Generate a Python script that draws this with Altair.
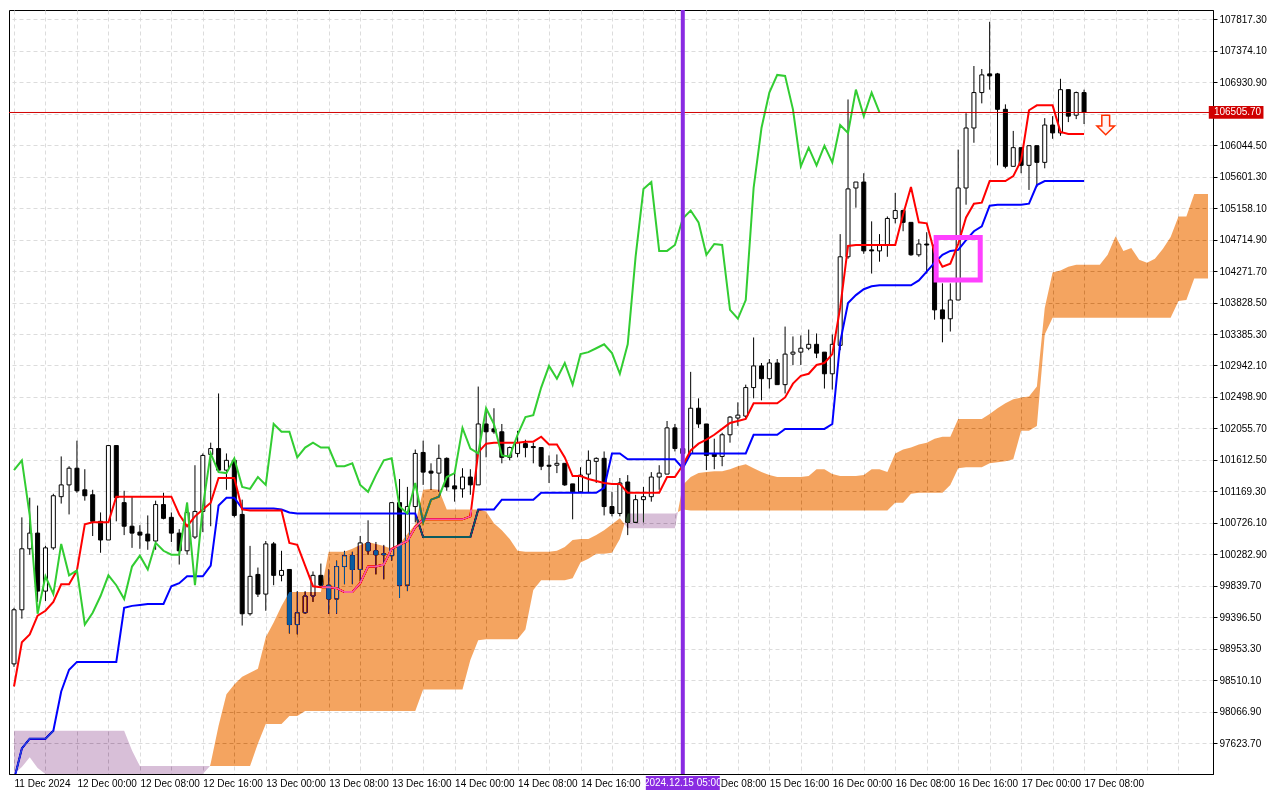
import altair as alt
import numpy as np
import pandas as pd

# Hours are counted from 12 Dec 2024 00:00; first bar is 11 Dec 16:00 (hour -8)
FIRST_HOUR = -8

open_ = [
    98739, 99501, 100360, 100581, 99764, 100373, 101094, 101260,
    101495, 101191, 101121, 100747, 100484, 101814, 101010, 100678,
    100595, 100567, 100470, 100983, 100803, 100581, 100332, 100526,
    100886, 101689, 101772, 101468, 101606, 100844, 99445, 99999,
    99722, 100429, 99986, 100069, 99293, 99459, 99695, 99986,
    99847, 99653, 100110, 100263, 100069, 100443, 100332, 100290,
    100263, 101010, 99847, 100955, 101717, 101454, 101426, 101634,
    101246, 101204, 101371, 101260, 102118, 102049, 102008, 101648,
    101703, 101841, 101800, 101786, 101537, 101537, 101564, 101274,
    101163, 101412, 101592, 101634, 100955, 100858, 101301, 100733,
    101052, 101094, 101371, 101412, 102063, 101772, 101703, 102340,
    102118, 101703, 101661, 101966, 102202, 102229, 102631, 102936,
    102756, 102977, 102672, 103102, 103130, 103185, 103240, 103130,
    102825, 103226, 104473, 105442, 105526, 104570, 104556, 104639,
    105013, 105124, 104958, 104501, 104653, 104639, 103725, 103600,
    103864, 105442, 106287, 106786, 107049, 107049, 106550, 105747,
    106010, 105761, 106038, 105803, 106329, 106218, 106827, 106467,
    106786,
]
high = [
    99529, 100803, 101080, 100969, 100401, 101135, 101661, 101523,
    101883, 101481, 101191, 100872, 101814, 101814, 101177, 101094,
    100692, 100830, 101038, 101149, 100872, 100637, 101010, 101537,
    101703, 101855, 102548, 101703, 101634, 101052, 100401, 100096,
    100470, 100456, 100332, 100069, 99764, 99764, 100041, 100152,
    100069, 100193, 100332, 100318, 100540, 100761, 100456, 100415,
    101010, 101343, 101232, 101758, 101883, 101564, 101828, 101648,
    101426, 101495, 101481, 102645, 102340, 102340, 102118, 101800,
    102022, 101897, 101855, 101786, 101675, 101689, 101564, 101274,
    101509, 101745, 101648, 101731, 101163, 101357, 101398, 101121,
    101232, 101440, 101537, 102160, 102118, 101883, 102852, 102479,
    102118, 101911, 101994, 102229, 102423, 102672, 103337, 102977,
    103033, 103033, 103490, 103351, 103365, 103448, 103393, 103130,
    103379, 104792, 106689, 105526, 105650, 104972, 104792, 105041,
    105373, 105138, 104958, 104722, 104819, 104639, 104099, 104099,
    105983, 106495, 107160, 107118, 107783, 107063, 106620, 106246,
    106010, 106038, 106038, 106426, 106454, 106980, 106827, 106800,
    106827,
]
low = [
    98697, 99376, 100276, 99612, 99625, 100346, 100997, 100844,
    101149, 101038, 100540, 100304, 100484, 100747, 100553, 100373,
    100360, 100346, 100346, 100775, 100456, 100138, 100276, 100498,
    100595, 100678, 101440, 101191, 100803, 99279, 99418, 99681,
    99487, 99847, 99902, 99168, 99155, 99445, 99612, 99833,
    99445, 99445, 99861, 99861, 99902, 100276, 99999, 99930,
    100193, 99667, 99764, 100733, 101260, 101191, 101163, 101177,
    101024, 101080, 101121, 101260, 101648, 101980, 101564, 101606,
    101648, 101648, 101564, 101468, 101287, 101426, 101246, 100775,
    101149, 101149, 101287, 100830, 100817, 100817, 100553, 100733,
    100733, 101024, 101191, 101412, 101731, 101606, 101675, 102063,
    101468, 101481, 101523, 101855, 102091, 102188, 102479, 102451,
    102617, 102672, 102548, 102949, 102949, 103157, 103046, 102617,
    102603, 103157, 104445, 105165, 104515, 104237, 104404, 104473,
    104944, 104833, 104487, 104473, 104237, 103587, 103268, 103420,
    103864, 105207, 106079, 106634, 106827, 105761, 105719, 105747,
    105650, 105415, 105456, 105719, 106135, 106177, 106370, 106412,
    106343,
]
close = [
    99501, 100360, 100581, 99764, 100373, 101107, 101260, 101495,
    101177, 101107, 100747, 100484, 101814, 101080, 100678, 100581,
    100553, 100470, 100983, 100789, 100581, 100332, 100872, 100886,
    101675, 101772, 101468, 101606, 100830, 99445, 99972, 99722,
    100429, 99986, 100055, 99293, 99459, 99695, 99986, 99847,
    99653, 100110, 100263, 100069, 100443, 100332, 100276, 100276,
    101010, 99847, 100955, 101703, 101440, 101426, 101634, 101232,
    101204, 101371, 101260, 102118, 102008, 102008, 101648, 101786,
    101855, 101786, 101786, 101523, 101523, 101564, 101260, 101163,
    101398, 101606, 101634, 100955, 100858, 101287, 100733, 101052,
    101094, 101371, 101426, 102063, 101772, 101703, 102340, 102118,
    101675, 101661, 101966, 102215, 102243, 102631, 102936, 102756,
    102977, 102672, 103102, 103130, 103185, 103240, 103116, 102825,
    103240, 104473, 105429, 105526, 104556, 104556, 104639, 105013,
    105124, 104958, 104501, 104653, 104639, 103725, 103600, 103864,
    105442, 106287, 106786, 107035, 107021, 106550, 105747, 106010,
    105761, 106038, 105803, 106329, 106218, 106827, 106454, 106786,
    106505.7,
]
tenkan = [
    98420, 99044, 99155, 99418, 99487, 99612, 99861, 99861,
    100055, 100706, 100733, 100733, 100733, 101094, 101094, 101094,
    101094, 101094, 101094, 101094, 101094, 100844, 100678, 100817,
    100914, 101010, 101357, 101357, 101357, 100914, 100900, 100900,
    100900, 100900, 100900, 100443, 100415, 100124, 99833, 99819,
    99819, 99806, 99750, 99750, 99875, 100110, 100110, 100138,
    100360, 100415, 100470, 100664, 100775, 100775, 100775, 100775,
    100775, 100775, 100817, 101717, 101841, 101855, 101855, 101855,
    101855, 101869, 101869, 101938, 101828, 101828, 101648, 101384,
    101384, 101343, 101315, 101287, 101274, 101274, 101149, 101149,
    101149, 101149, 101149, 101371, 101371, 101537, 101745, 101841,
    101897, 101966, 102049, 102132, 102160, 102188, 102409, 102409,
    102409, 102409, 102492, 102686, 102797, 102825, 102949, 102977,
    103102, 103753, 104625, 104639, 104639, 104639, 104639, 104639,
    104639, 105069, 105456, 104958, 104944, 104528, 104334, 104376,
    104653, 105027, 105221, 105235, 105539, 105539, 105539, 105609,
    105830, 106537, 106606, 106606, 106606, 106232, 106204, 106204,
    106204,
]
kijun = [
    97105, 97548, 97686, 97686, 97686, 97797, 98351, 98656,
    98767, 98767, 98767, 98767, 98767, 98767, 99529, 99556,
    99570, 99584, 99584, 99584, 99833, 99875, 99972, 99972,
    99972, 100124, 100969, 101080, 101080, 100927, 100927, 100927,
    100927, 100927, 100914, 100872, 100858, 100858, 100858, 100858,
    100858, 100858, 100858, 100858, 100858, 100858, 100858, 100858,
    100858, 100858, 100858, 100858, 100526, 100526, 100526, 100526,
    100526, 100526, 100526, 100914, 100914, 100914, 101052, 101052,
    101052, 101052, 101052, 101149, 101149, 101149, 101149, 101149,
    101149, 101149, 101149, 101218, 101703, 101703, 101620, 101620,
    101620, 101620, 101620, 101620, 101620, 101495, 101703, 101703,
    101703, 101703, 101703, 101703, 101703, 101703, 101966, 101966,
    101966, 101966, 102049, 102049, 102049, 102049, 102049, 102049,
    102118, 103268, 103822, 103933, 104016, 104057, 104071, 104071,
    104071, 104071, 104071, 104140, 104265, 104390, 104501, 104556,
    104570, 104708, 104833, 104902, 105193, 105207, 105207, 105207,
    105207, 105221, 105484, 105539, 105539, 105539, 105539, 105539,
    105539,
]
# Senkou spans, already displaced 26 bars forward (hour -8 .. 144)
span_a = [
    96897, 97285, 97423, 97271, 96897, 96897, 96897, 96897,
    96897, 96897, 96897, 96897, 96897, 96897, 96897, 96897,
    96897, 96897, 96897, 96897, 96897, 96897, 96897, 96897,
    96897, 97340, 97866, 98310, 98448, 98559, 98614, 98670,
    99113, 99321, 99556, 99750, 99750, 99750, 99750, 99750,
    100318, 100318, 100318, 100360, 100415, 100456, 100429, 100401,
    100360, 100429, 100567, 100706, 101191, 101204, 101191, 100914,
    100914, 100914, 100914, 100914, 100886, 100720, 100623, 100498,
    100332, 100318, 100318, 100318, 100318, 100332, 100387, 100484,
    100498, 100498, 100553, 100623, 100706, 100789, 100650, 100650,
    100650, 100650, 100650, 100650, 100650, 101260, 101371, 101426,
    101440, 101454, 101454, 101481, 101523, 101551, 101495, 101440,
    101398, 101371, 101371, 101371, 101371, 101384, 101481, 101481,
    101412, 101384, 101384, 101384, 101398, 101481, 101481, 101440,
    101703, 101758, 101786, 101828, 101855, 101911, 101938, 101938,
    102188, 102188, 102188, 102188, 102257, 102340, 102409, 102465,
    102492, 102506, 102645, 103753, 104251, 104279, 104334, 104362,
    104362, 104362, 104362, 104501, 104764, 104556, 104598, 104431,
    104390, 104445, 104584, 104750, 105041, 105041, 105359, 105359,
    105359,
]
span_b = [
    97797, 97797, 97797, 97797, 97797, 97797, 97797, 97797,
    97797, 97797, 97797, 97797, 97797, 97797, 97797, 97520,
    97299, 97299, 97299, 97299, 97299, 97299, 97299, 97299,
    97299, 97299, 97299, 97299, 97299, 97299, 97299, 97617,
    97894, 97894, 97894, 98005, 98005, 98074, 98074, 98074,
    98074, 98074, 98074, 98074, 98074, 98074, 98074, 98074,
    98074, 98074, 98074, 98074, 98379, 98379, 98379, 98379,
    98379, 98379, 98794, 99071, 99085, 99085, 99085, 99085,
    99085, 99224, 99778, 99916, 99916, 99916, 99916, 99944,
    100166, 100221, 100290, 100290, 100304, 100498, 100858, 100858,
    100858, 100858, 100858, 100858, 100858, 100914, 100900, 100900,
    100900, 100900, 100900, 100900, 100900, 100900, 100900, 100900,
    100900, 100900, 100900, 100900, 100900, 100900, 100900, 100900,
    100900, 100900, 100900, 100900, 100900, 100900, 100900, 100900,
    101010, 101010, 101135, 101149, 101149, 101149, 101149, 101260,
    101495, 101509, 101509, 101509, 101564, 101578, 101592, 101620,
    102022, 102022, 102091, 103379, 103614, 103614, 103614, 103614,
    103614, 103614, 103614, 103614, 103614, 103614, 103614, 103614,
    103614, 103614, 103614, 103614, 103850, 103864, 104168, 104168,
    104168,
]
CHIKOU_SHIFT = 26

x_tick_hours = [-8, 0, 8, 16, 24, 32, 40, 48, 56, 64, 80, 88, 96, 104, 112, 120, 128]
x_tick_labels = ["11 Dec 2024", "12 Dec 00:00", "12 Dec 08:00", "12 Dec 16:00",
                 "13 Dec 00:00", "13 Dec 08:00", "13 Dec 16:00", "14 Dec 00:00",
                 "14 Dec 08:00", "14 Dec 16:00", "15 Dec 08:00", "15 Dec 16:00",
                 "16 Dec 00:00", "16 Dec 08:00", "16 Dec 16:00", "17 Dec 00:00",
                 "17 Dec 08:00"]
grid_hours = list(range(-8, 144, 4))
y_ticks = [97623.70, 98066.90, 98510.10, 98953.30, 99396.50, 99839.70, 100282.90,
           100726.10, 101169.30, 101612.50, 102055.70, 102498.90, 102942.10,
           103385.30, 103828.50, 104271.70, 104714.90, 105158.10, 105601.30,
           106044.50, 106487.70, 106930.90, 107374.10, 107817.30]
hidden_y_tick = 106487.70  # covered by the current-price tag

cursor_hour = 77
cursor_label = "2024.12.15 05:00"
last_price = 106505.70
box_hours = [109.2, 114.8]
box_prices = [104147, 104743]
arrow_hour = 130.75
arrow_price = 106329

X_DOMAIN = [-8, 143.75]
Y_DOMAIN = [97188, 107949]

n = len(close)
assert len(open_) == n and len(high) == n and len(low) == n, (len(open_), len(high), len(low), n)
assert len(tenkan) == n and len(kijun) == n, (len(tenkan), len(kijun))
assert len(span_a) == len(span_b), (len(span_a), len(span_b))

hours = np.arange(FIRST_HOUR, FIRST_HOUR + n)
span_hours = np.arange(FIRST_HOUR, FIRST_HOUR + len(span_a))

candles = pd.DataFrame(dict(h=hours, o=open_, hi=high, lo=low, c=close))
candles["dir"] = np.where(candles.c >= candles.o, "up", "down")

lines = pd.concat([
    pd.DataFrame(dict(h=hours, v=kijun, s="kijun")),
    pd.DataFrame(dict(h=hours, v=tenkan, s="tenkan")),
    pd.DataFrame(dict(h=hours[:-CHIKOU_SHIFT], v=close[CHIKOU_SHIFT:], s="chikou")),
])

# cloud segments (split where the spans cross)
rows = []
seg = 0
prev = None
for i, h in enumerate(span_hours):
    a, b = span_a[i], span_b[i]
    kind = "bull" if a >= b else "bear"
    if prev is not None and kind != prev:
        a0, b0 = span_a[i - 1], span_b[i - 1]
        t = (a0 - b0) / ((a0 - b0) - (a - b))
        hx = float(span_hours[i - 1]) + t
        vx = a0 + t * (a - a0)
        rows.append(dict(h=hx, a=vx, b=vx, kind=prev, seg=seg))
        seg += 1
        rows.append(dict(h=hx, a=vx, b=vx, kind=kind, seg=seg))
    rows.append(dict(h=float(h), a=a, b=b, kind=kind, seg=seg))
    prev = kind
cloud = pd.DataFrame(rows)
# keep the (unclipped, blended) cloud inside the plotting frame
cloud["h"] = cloud["h"].clip(upper=X_DOMAIN[1])
cloud["a"] = cloud["a"].clip(lower=Y_DOMAIN[0])
cloud["b"] = cloud["b"].clip(lower=Y_DOMAIN[0])

FONT = "Liberation Sans"
x_scale = alt.Scale(domain=X_DOMAIN, nice=False, zero=False)
y_scale = alt.Scale(domain=Y_DOMAIN, nice=False, zero=False)

label_expr = "".join(f"datum.value == {h} ? '{l}' : " for h, l in zip(x_tick_hours, x_tick_labels)) + "''"
y_label_expr = f"abs(datum.value - {hidden_y_tick}) < 1 ? '' : format(datum.value, '.2f')"

x_axis = alt.Axis(values=grid_hours, labelExpr=label_expr, grid=True, gridColor="#dcdcdc",
                  gridDash=[4, 3], ticks=False, labelAlign="left", labelBaseline="top",
                  labelPadding=4, labelFontSize=10, labelFont=FONT, labelColor="black",
                  domainColor="black", labelOverlap=False, labelFlush=False, title=None)
y_axis = alt.Axis(orient="right", values=y_ticks, labelExpr=y_label_expr, grid=True,
                  gridColor="#dcdcdc", gridDash=[4, 3], tickSize=4, tickColor="black",
                  labelPadding=2, labelFontSize=10, labelFont=FONT, labelColor="black",
                  domainColor="black", labelOverlap=False, labelFlush=False, title=None)


def X(field):
    return alt.X(field, scale=x_scale, axis=x_axis, title=None)


def Y(field, **kw):
    return alt.Y(field, scale=y_scale, axis=y_axis, title=None, **kw)


wicks = alt.Chart(candles).mark_rule(color="black", strokeWidth=1, clip=True).encode(
    x=X("h:Q"), y=Y("lo:Q"), y2="hi:Q",
)
bodies = alt.Chart(candles).mark_bar(width=4, stroke="black", strokeWidth=1, opacity=1,
                                     orient="vertical", clip=True).encode(
    x=X("h:Q"), y=Y("o:Q"), y2="c:Q",
    fill=alt.Fill("dir:N", scale=alt.Scale(domain=["up", "down"], range=["#ffffff", "#000000"]),
                  legend=None),
)
ind_lines = alt.Chart(lines).mark_line(strokeWidth=2, clip=True).encode(
    x=X("h:Q"), y=Y("v:Q"),
    color=alt.Color("s:N", scale=alt.Scale(domain=["kijun", "tenkan", "chikou"],
                                           range=["#0000ff", "#ff0000", "#32cd32"]), legend=None),
    order=alt.Order("h:Q"),
)
price_line = alt.Chart(pd.DataFrame({"p": [last_price]})).mark_rule(
    color="#d00000", strokeWidth=1).encode(y=Y("p:Q"))

cloud_area = alt.Chart(cloud).mark_area(blend="difference", opacity=1,
                                        interpolate="linear").encode(
    x=X("h:Q"), y=Y("a:Q", stack=None), y2="b:Q",
    fill=alt.Fill("kind:N", scale=alt.Scale(domain=["bull", "bear"],
                                            range=["#0b5b9f", "#274027"]), legend=None),
    detail="seg:N",
)

cursor = alt.Chart(pd.DataFrame({"h": [cursor_hour]})).mark_rule(
    color="#8a2be2", strokeWidth=4).encode(x=X("h:Q"))

box = alt.Chart(pd.DataFrame({"h0": [box_hours[0]], "h1": [box_hours[1]],
                              "p0": [box_prices[0]], "p1": [box_prices[1]]})).mark_rect(
    filled=False, stroke="#ff40ff", strokeWidth=5).encode(
    x=X("h0:Q"), x2="h1:Q", y=Y("p0:Q"), y2="p1:Q")

arrow_path = "M-0.4,-1 L0.4,-1 L0.4,0.1 L0.9,0.1 L0,1 L-0.9,0.1 L-0.4,0.1 Z"
arrow = alt.Chart(pd.DataFrame({"h": [arrow_hour], "p": [arrow_price]})).mark_point(
    shape=arrow_path, size=380, filled=True, fill="#fff4f4", stroke="#ff3000",
    strokeWidth=1.5, opacity=1).encode(x=X("h:Q"), y=Y("p:Q"))

price_tag = pd.DataFrame({"h0": [143.85], "h1": [150.8], "p0": [106416], "p1": [106596],
                          "ht": [144.5], "p": [last_price], "t": [f"{last_price:.2f}"]})
tag_box = alt.Chart(price_tag).mark_rect(color="#d00000").encode(
    x=X("h0:Q"), x2="h1:Q", y=Y("p0:Q"), y2="p1:Q")
tag_text = alt.Chart(price_tag).mark_text(align="left", baseline="middle", color="white",
                                          fontSize=10, font=FONT).encode(
    x=X("ht:Q"), y=Y("p:Q"), text="t:N")

cur_tag = pd.DataFrame({"h0": [72.3], "h1": [81.7], "p0": [96963], "p1": [97160],
                        "h": [cursor_hour], "p": [97062], "t": [cursor_label]})
cur_box = alt.Chart(cur_tag).mark_rect(color="#8a2be2").encode(
    x=X("h0:Q"), x2="h1:Q", y=Y("p0:Q"), y2="p1:Q")
cur_text = alt.Chart(cur_tag).mark_text(align="center", baseline="middle", color="white",
                                        fontSize=10, font=FONT).encode(
    x=X("h:Q"), y=Y("p:Q"), text="t:N")

chart = alt.layer(
    wicks, bodies, ind_lines, price_line, cloud_area, cursor, box, arrow,
    tag_box, tag_text, cur_box, cur_text,
).resolve_scale(
    color="independent", fill="independent",
).properties(
    width=1204, height=764, padding=0, background="white",
).configure_view(stroke="black", strokeWidth=1, fill="white")

chart.save("out.html", embed_options={"renderer": "svg", "actions": False})
